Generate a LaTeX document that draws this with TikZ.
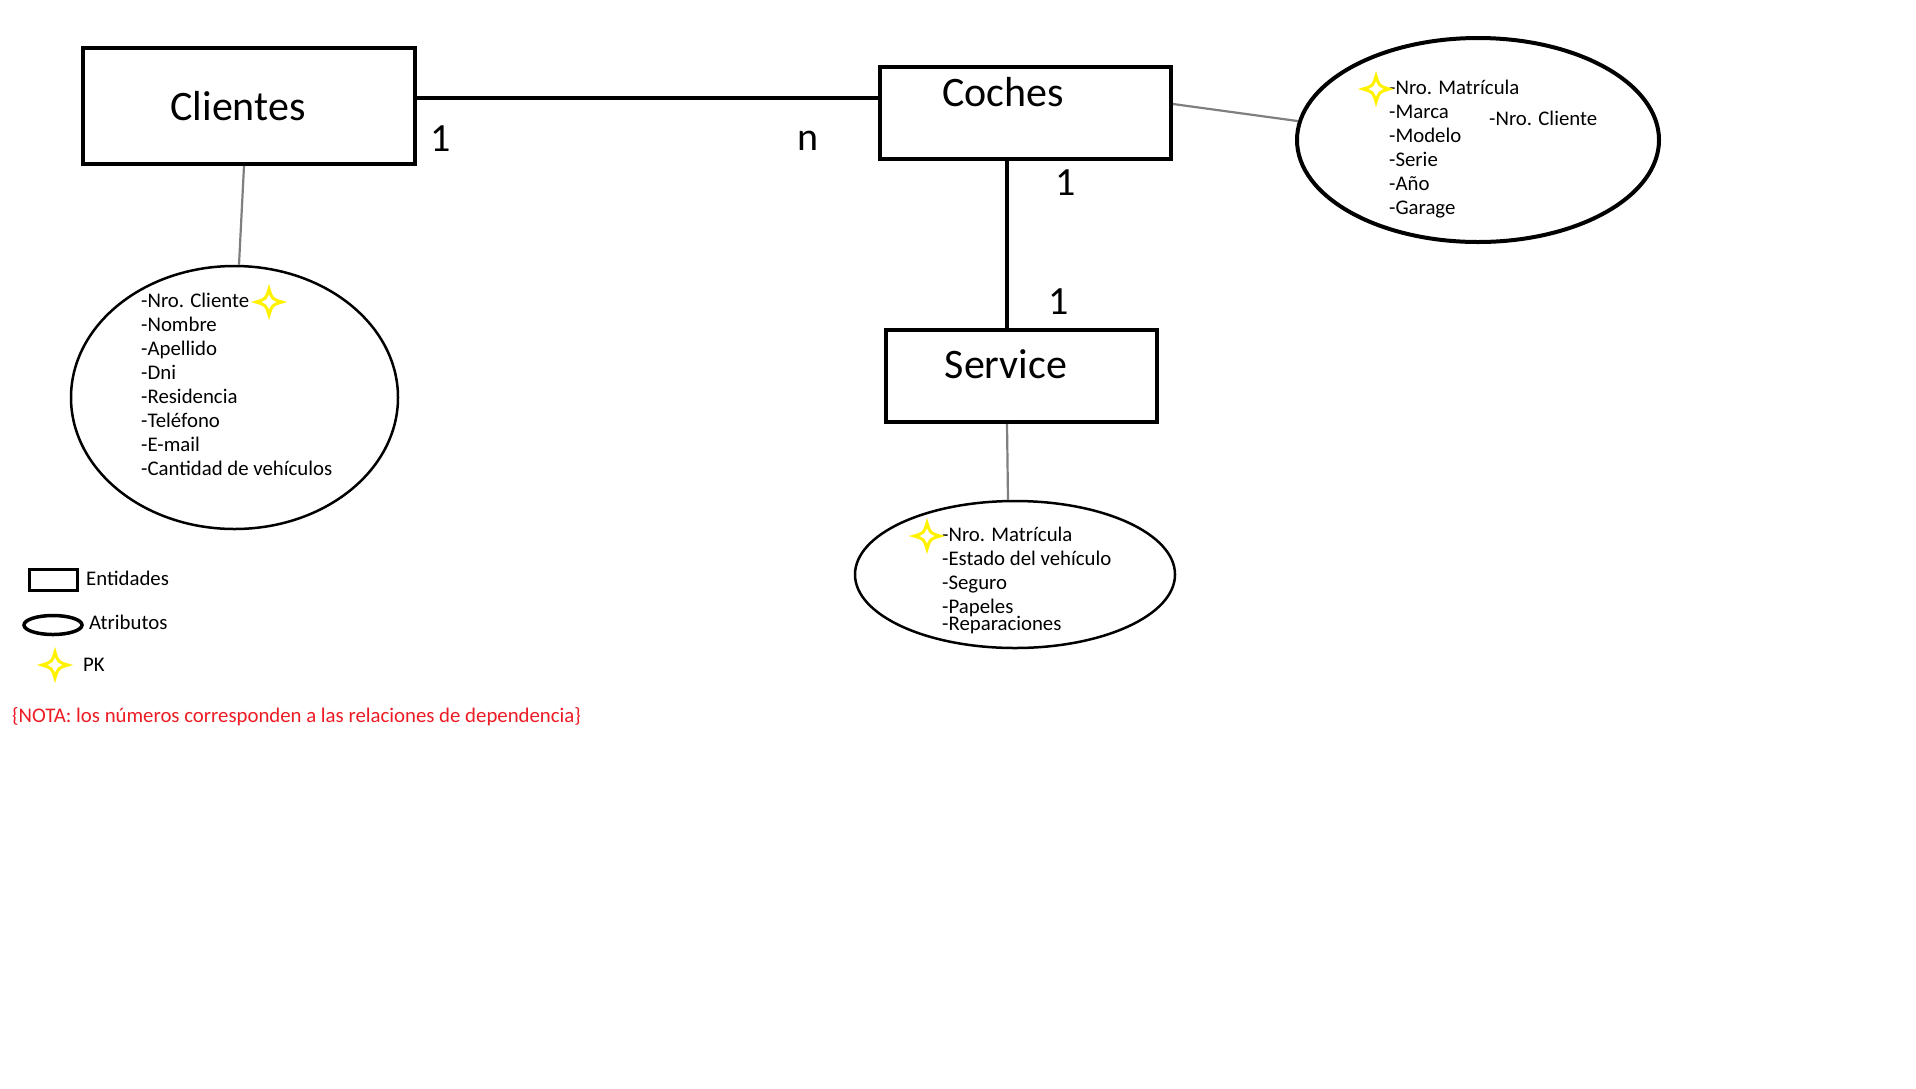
\documentclass[tikz,border=0pt]{standalone}
\usepackage{fontspec}
\setmainfont{Carlito}
\usetikzlibrary{shapes.geometric}

\definecolor{pkyellow}{RGB}{255,242,0}
\definecolor{notered}{RGB}{237,28,36}
\definecolor{linkgray}{RGB}{127,127,127}

\tikzset{
  entity/.style={draw, line width=4pt, inner sep=0pt},
  attrs/.style={draw, ellipse, inner sep=0pt},
  attrline/.style={draw=linkgray, line width=2.2pt},
  rel/.style={line width=4pt},
  attrtext/.style={font=\fontsize{20.8}{24}\selectfont, inner sep=0pt, anchor=west, text height=14pt, text depth=4pt},
  entitytext/.style={font=\fontsize{42}{50}\selectfont},
  card/.style={font=\fontsize{40}{48}\selectfont, inner sep=0pt},
  pk/.pic={\draw[pkyellow, line width=3pt, fill=white] (0,13) .. controls (3,3) .. (13,0) .. controls (3,-3) .. (0,-13) .. controls (-3,-3) .. (-13,0) .. controls (-3,3) .. cycle;}
}

\begin{document}
\begin{tikzpicture}[x=1pt,y=-1pt]
    \fill[white] (0,0) rectangle (1916,1088);
    \useasboundingbox (0,0) rectangle (1916,1088);

    % entidades
    \node[entity, minimum width=332pt, minimum height=116pt, label={[entitytext,xshift=-11pt]center:Clientes}] (clientes) at (249,106) {};
    \node[entity, minimum width=291pt, minimum height=92pt, label={[entitytext,xshift=-22.5pt,yshift=21pt]center:Coches}] (coches) at (1025.5,113) {};
    \node[entity, minimum width=271pt, minimum height=92pt, label={[entitytext,xshift=-15.5pt,yshift=12pt]center:Service}] (service) at (1021.5,376) {};

    % relaciones
    \draw[rel] ([yshift=8pt]clientes.east) -- ([yshift=15pt]coches.west)
        node[card, pos=0.052, yshift=-41pt] (cardcli) {1}
        node[card, pos=0.849, yshift=-43pt] (cardcoc) {n};
    \draw[rel] ([xshift=-18.5pt]coches.south) -- ([xshift=-14.5pt]service.north)
        node[card, pos=0.128, xshift=59pt] (cardcoc2) {1}
        node[card, pos=0.843, xshift=52pt] (cardser) {1};

    % atributos
    \node[attrs, line width=2.5pt, minimum width=327pt, minimum height=263pt] (cliattr) at (234.5,397.5) {};
    \node[attrs, line width=4pt, minimum width=362pt, minimum height=204pt] (cocattr) at (1478,140) {};
    \node[attrs, line width=2.5pt, minimum width=320pt, minimum height=147pt] (serattr) at (1015,574.5) {};

    \draw[attrline] ([xshift=-5pt]clientes.south) -- ([xshift=4.5pt]cliattr.north);
    \draw[attrline] ([yshift=9pt]coches.east) -- (cocattr.174);
    \draw[attrline] ([xshift=-14.5pt]service.south) -- ([xshift=-7pt]serattr.north);

    \foreach \t [count=\i] in {-Nro. Cliente, -Nombre, -Apellido, -Dni, -Residencia, -Teléfono, -E-mail, -Cantidad de vehículos}
        \node[attrtext] (cli\i) at (141,{278+24*\i}) {\t};
    \foreach \t [count=\i] in {-Nro. Matrícula, -Marca, -Modelo, -Serie, -Año, -Garage}
        \node[attrtext] (coc\i) at (1389,{65+24*\i}) {\t};
    \node[attrtext] (coc7) at (1489,120) {-Nro. Cliente};
    \foreach \t/\y [count=\i] in {-Nro. Matrícula/536, -Estado del vehículo/560, -Seguro/584, -Papeles/608, -Reparaciones/625}
        \node[attrtext] (ser\i) at (942,\y) {\t};

    \pic at (269,302) {pk};
    \pic at (1376,89) {pk};
    \pic at (927,536) {pk};

    % leyenda
    \node[draw, line width=3pt, minimum width=48pt, minimum height=21pt, inner sep=0pt] (legent) at (53,579.5) {};
    \node[attrtext] (legenttxt) at (86,580) {Entidades};
    \node[attrs, line width=3.5pt, minimum width=58pt, minimum height=19pt] (legattr) at (53,625) {};
    \node[attrtext] (legattrtxt) at (89,624) {Atributos};
    \pic at (55,665) {pk};
    \node[attrtext] (legpk) at (83,666) {PK};
    \node[attrtext, text=notered] (nota) at (12,717) {\{NOTA: los números corresponden a las relaciones de dependencia\}};
\end{tikzpicture}
\end{document}
